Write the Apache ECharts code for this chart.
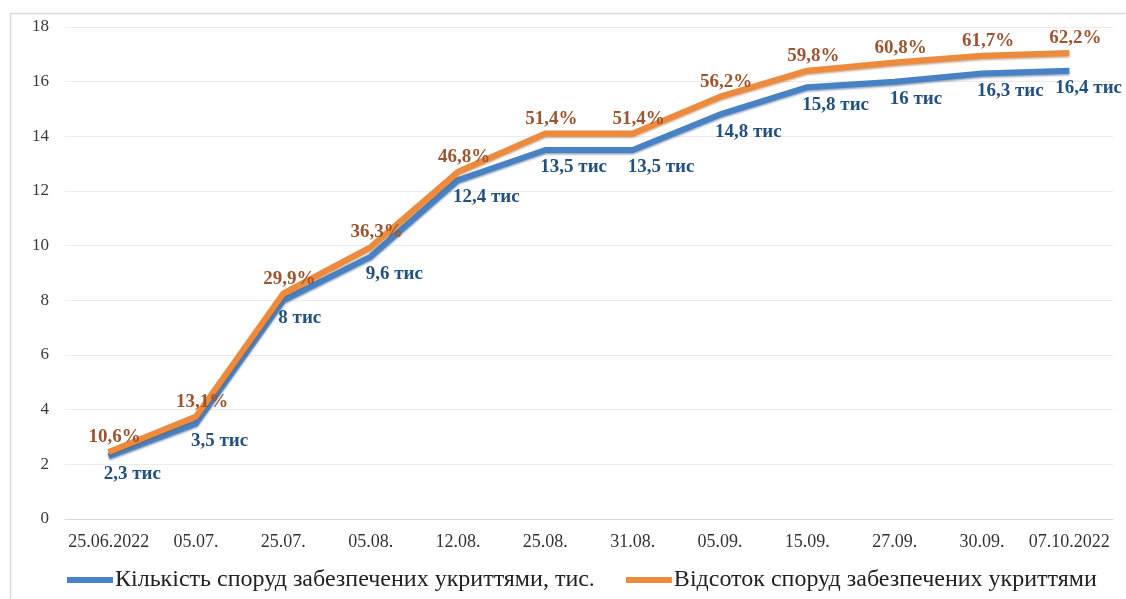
<!DOCTYPE html>
<html>
<head>
<meta charset="utf-8">
<script src="https://cdn.jsdelivr.net/npm/echarts@6/dist/echarts.min.js"></script>
<style>
html,body{margin:0;padding:0;background:#fff;}
#c{width:1126px;height:599px;}
</style>
</head>
<body>
<div id="c"></div>
<script>
const categories = ['25.06.2022','05.07.','25.07.','05.08.','12.08.','25.08.','31.08.','05.09.','15.09.','27.09.','30.09.','07.10.2022'];
const countValues = [2.3, 3.5, 8, 9.6, 12.4, 13.5, 13.5, 14.8, 15.8, 16, 16.3, 16.4];
const countLabels = ['2,3 тис','3,5 тис','8 тис','9,6 тис','12,4 тис','13,5 тис','13,5 тис','14,8 тис','15,8 тис','16 тис','16,3 тис','16,4 тис'];
const shareValues = [2.45, 3.75, 8.25, 9.95, 12.7, 14.1, 14.1, 15.45, 16.4, 16.7, 16.95, 17.05];
const shareLabels = ['10,6%','13,1%','29,9%','36,3%','46,8%','51,4%','51,4%','56,2%','59,8%','60,8%','61,7%','62,2%'];
const yTicks = { min: 0, max: 18, interval: 2 };
const seriesNames = ['Кількість споруд забезпечених укриттями, тис.', 'Відсоток споруд забезпечених укриттями'];

const serif = '"Liberation Serif","Times New Roman",serif';
const blue = '#4682c4';
const orange = '#ee8a3c';

const chart = echarts.init(document.getElementById('c'), null, {renderer:'canvas'});

const countData = countValues.map((v, i) => {
  const item = { value: v, label: { formatter: countLabels[i] } };
  if (i === countValues.length - 1) item.label.offset = [-14, 0];
  return item;
});
const shareData = shareValues.map((v, i) => ({ value: v, label: { formatter: shareLabels[i] } }));

chart.setOption({
  animation: false,
  backgroundColor: '#fff',
  graphic: [{
    type: 'rect',
    shape: { x: 10.5, y: 13.5, width: 1125, height: 590 },
    style: { fill: 'none', stroke: '#dcdcdc', lineWidth: 1.5 },
    silent: true
  }],
  grid: { left: 65, right: 13, top: 27, bottom: 80, containLabel: false },
  xAxis: {
    type: 'category',
    data: categories,
    boundaryGap: true,
    axisLine: { show: true, lineStyle: { color: '#dadada', width: 1 } },
    axisTick: { show: false },
    axisLabel: { fontFamily: serif, fontSize: 18, color: '#333', margin: 14, interval: 0 }
  },
  yAxis: {
    type: 'value',
    min: yTicks.min, max: yTicks.max, interval: yTicks.interval,
    axisLine: { show: false },
    axisTick: { show: false },
    splitLine: { lineStyle: { color: '#ececec', width: 1 } },
    axisLabel: { fontFamily: serif, fontSize: 17, color: '#3a3a3a', margin: 16 }
  },
  legend: {
    left: 62, top: 563,
    itemWidth: 46, itemHeight: 6, itemGap: 31,
    icon: 'rect',
    textStyle: { fontFamily: serif, fontSize: 24, color: '#222', padding: [0,0,0,-3] },
    data: seriesNames
  },
  series: [
    {
      name: seriesNames[0],
      type: 'line',
      data: countData,
      symbol: 'circle', symbolSize: 0,
      itemStyle: { color: blue },
      lineStyle: { color: blue, width: 6, shadowColor: 'rgba(20,50,100,0.45)', shadowBlur: 2, shadowOffsetY: 1.5 },
      label: {
        show: true, position: 'bottom', distance: 8, align: 'left', offset: [-5, 0],
        fontFamily: serif, fontSize: 19, fontWeight: 'bold', color: '#23517f'
      },
      z: 2
    },
    {
      name: seriesNames[1],
      type: 'line',
      data: shareData,
      symbol: 'circle', symbolSize: 0,
      itemStyle: { color: orange },
      lineStyle: { color: orange, width: 6, shadowColor: 'rgba(140,70,20,0.45)', shadowBlur: 2, shadowOffsetY: 1.5 },
      label: {
        show: true, position: 'top', distance: 5, offset: [6, 0],
        fontFamily: serif, fontSize: 19, fontWeight: 'bold', color: '#9c5530'
      },
      z: 3
    }
  ]
});
</script>
</body>
</html>
